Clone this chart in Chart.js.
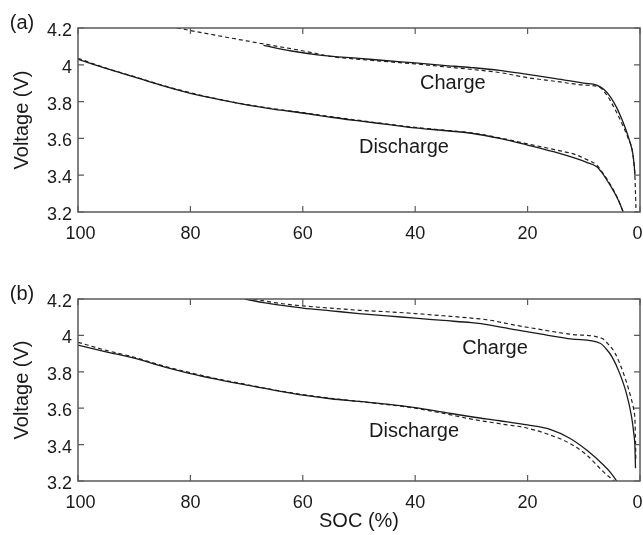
<!DOCTYPE html>
<html lang="en">

<head>
    <meta charset="UTF-8">
    <title>SOC vs Voltage</title>
    <script src="https://cdn.jsdelivr.net/npm/chart.js@4.4.0/dist/chart.umd.min.js"></script>
    <style>
        body { margin: 0; background: #fff; }
        .panel { position: absolute; left: 0; }
    </style>
</head>

<body>
    <canvas class="panel" id="chartA" width="643" height="270" style="top:0"></canvas>
    <canvas class="panel" id="chartB" width="643" height="265" style="top:270px"></canvas>

    <script>
        // x ticks / y ticks
        const socTicks = [100, 80, 60, 40, 20, 0];
        const voltTicks = [3.2, 3.4, 3.6, 3.8, 4.0, 4.2];

        // panel (a) - solid lines
        const aDisSoc = [100, 95, 90, 85, 80, 75, 70, 65, 60, 55, 50, 45, 40, 35, 30, 25, 20, 15.4, 11.3, 9.5, 7.7, 6.8, 5.9, 5, 4.15, 3.5, 3.0];
        const aDisV = [4.03, 3.98, 3.934, 3.887, 3.845, 3.812, 3.782, 3.758, 3.738, 3.715, 3.695, 3.676, 3.657, 3.643, 3.628, 3.6, 3.564, 3.528, 3.49, 3.47, 3.446, 3.415, 3.374, 3.33, 3.283, 3.24, 3.2];
        const aChgSoc = [67, 62, 57, 50, 45, 40, 35, 30, 25, 20, 15, 10, 7.7, 6.5, 5.3, 4.2, 3.3, 2.6, 2.1, 1.6, 1.3, 1.05, 0.9];
        const aChgV = [4.105, 4.075, 4.053, 4.035, 4.022, 4.01, 3.997, 3.985, 3.97, 3.948, 3.925, 3.9, 3.89, 3.868, 3.827, 3.77, 3.71, 3.655, 3.61, 3.56, 3.52, 3.46, 3.4];

        // panel (a) - dashed lines
        const aDisSocM = [100, 95, 90, 85, 80, 75, 70, 65, 60, 55, 50, 45, 40, 35, 30, 25, 20, 15.4, 11.3, 9.5, 7.7, 6.8, 5.9, 5, 4.15, 3.5, 3.0];
        const aDisVM = [4.035, 3.982, 3.936, 3.889, 3.848, 3.813, 3.784, 3.76, 3.74, 3.718, 3.698, 3.678, 3.66, 3.645, 3.63, 3.603, 3.57, 3.54, 3.51, 3.485, 3.455, 3.42, 3.38, 3.335, 3.285, 3.24, 3.2];
        const aChgSocM = [82.4, 78, 74, 70, 66, 62, 58, 55, 50, 45, 40, 35, 30, 25, 20, 15, 10, 7.3, 6, 5, 3.9, 2.9, 2.1, 1.4, 1.1, 0.9, 0.8, 0.7];
        const aChgVM = [4.2, 4.175, 4.152, 4.13, 4.108, 4.087, 4.064, 4.045, 4.03, 4.017, 4.005, 3.99, 3.975, 3.958, 3.93, 3.91, 3.89, 3.88, 3.84, 3.79, 3.725, 3.66, 3.6, 3.54, 3.47, 3.39, 3.3, 3.2];

        // panel (b) - solid lines
        const bDisSoc = [100, 95, 90, 85, 80, 75, 70, 65, 60, 55, 50, 45, 40, 35, 30, 25, 20, 16, 12.5, 9.5, 6.5, 5.2, 4.15];
        const bDisV = [3.947, 3.91, 3.875, 3.83, 3.79, 3.757, 3.727, 3.698, 3.672, 3.652, 3.637, 3.622, 3.603, 3.578, 3.553, 3.531, 3.508, 3.484, 3.435, 3.37, 3.288, 3.245, 3.2];
        const bChgSoc = [70.3, 67, 63, 60, 55, 50, 45, 40, 35, 30, 26.7, 22, 17.8, 12, 7.1, 6, 5, 3.6, 2.4, 1.5, 1.1, 0.9, 0.8];
        const bChgV = [4.2, 4.18, 4.162, 4.15, 4.135, 4.12, 4.107, 4.095, 4.082, 4.07, 4.057, 4.03, 4.008, 3.98, 3.957, 3.925, 3.883, 3.79, 3.68, 3.553, 3.46, 3.39, 3.27];

        // panel (b) - dashed lines
        const bDisSocM = [100, 95, 90, 85, 80, 75, 70, 65, 60, 55, 50, 45, 40, 35, 30, 25, 20, 16, 12.5, 9.5, 6.5, 4.6];
        const bDisVM = [3.962, 3.918, 3.88, 3.834, 3.795, 3.76, 3.73, 3.7, 3.675, 3.654, 3.637, 3.62, 3.6, 3.572, 3.54, 3.515, 3.49, 3.453, 3.407, 3.343, 3.25, 3.2];
        const bChgSocM = [68.8, 65, 60, 55, 50, 45, 40, 35, 30, 27, 22, 17.8, 12, 6.8, 5.6, 4.4, 2.7, 1.5, 1.1, 0.9, 0.8, 0.75];
        const bChgVM = [4.2, 4.18, 4.162, 4.15, 4.138, 4.13, 4.12, 4.108, 4.095, 4.085, 4.055, 4.033, 4.005, 3.984, 3.95, 3.9, 3.77, 3.645, 3.59, 3.535, 3.42, 3.315];

        const FONT = "'Liberation Sans', Arial, sans-serif";
        const INK = '#1a1a1a';

        function pts(xs, ys) {
            return xs.map((x, i) => ({ x: x, y: ys[i] }));
        }

        function line(data, dashed) {
            return {
                data: data,
                borderColor: dashed ? '#222' : INK,
                borderWidth: dashed ? 1.2 : 1.3,
                borderDash: dashed ? [4, 3] : [],
                pointRadius: 0,
                showLine: true,
                fill: false,
                cubicInterpolationMode: 'monotone'
            };
        }

        // box frame + inward ticks on all four sides, text notes
        const frame = {
            id: 'frame',
            afterDraw(chart, args, opts) {
                const { ctx, chartArea: a, scales } = chart;
                ctx.save();
                ctx.strokeStyle = '#5a5a5a';
                ctx.lineWidth = 1.5;
                ctx.strokeRect(a.left, a.top, a.right - a.left, a.bottom - a.top);
                ctx.lineWidth = 1.2;
                ctx.beginPath();
                socTicks.forEach(v => {
                    const px = scales.x.getPixelForValue(v);
                    ctx.moveTo(px, a.bottom); ctx.lineTo(px, a.bottom - 6);
                    ctx.moveTo(px, a.top); ctx.lineTo(px, a.top + 6);
                });
                voltTicks.forEach(v => {
                    const py = scales.y.getPixelForValue(v);
                    ctx.moveTo(a.left, py); ctx.lineTo(a.left + 6, py);
                    ctx.moveTo(a.right, py); ctx.lineTo(a.right - 6, py);
                });
                ctx.stroke();

                ctx.fillStyle = INK;
                ctx.font = '20px ' + FONT;
                ctx.textAlign = 'center';
                ctx.textBaseline = 'middle';
                opts.notes.forEach(n => {
                    ctx.fillText(n.text, scales.x.getPixelForValue(n.soc), scales.y.getPixelForValue(n.v));
                });
                ctx.fillText(opts.panel, a.left - 56, a.top - 5);
                ctx.restore();
            }
        };

        function makeChart(id, sets, notes, panel, top, xHeight, showTitle) {
            return new Chart(document.getElementById(id), {
                type: 'scatter',
                data: { datasets: sets },
                options: {
                    responsive: false,
                    animation: false,
                    layout: { padding: { top: top, right: 3, left: 0, bottom: 0 } },
                    plugins: {
                        legend: { display: false },
                        tooltip: { enabled: false },
                        frame: { notes: notes, panel: panel }
                    },
                    scales: {
                        x: {
                            type: 'linear',
                            reverse: true,
                            min: 0,
                            max: 100,
                            grid: { display: false, drawTicks: false },
                            border: { display: false },
                            ticks: {
                                stepSize: 20, padding: 11, color: INK, font: { family: FONT, size: 18 },
                                // edge labels nudged like the original
                                callback: v => v === 0 ? '0 ' : (v === 100 ? ' 100' : String(v))
                            },
                            title: { display: showTitle, text: 'SOC (%)', color: INK, font: { family: FONT, size: 20 }, padding: { top: 0, bottom: 2 } },
                            afterFit(s) { s.height = xHeight; s.paddingLeft = 0; s.paddingRight = 0; }
                        },
                        y: {
                            min: 3.2,
                            max: 4.2,
                            grid: { display: false, drawTicks: false },
                            border: { display: false },
                            ticks: {
                                stepSize: 0.2, padding: 6, labelOffset: 3, color: INK, font: { family: FONT, size: 18 },
                                callback: v => String(+v.toFixed(1))
                            },
                            title: { display: true, text: 'Voltage (V)', color: INK, font: { family: FONT, size: 20 }, padding: { top: 10, bottom: 0 } },
                            afterFit(s) { s.width = 78; s.paddingTop = 0; s.paddingBottom = 0; }
                        }
                    }
                },
                plugins: [frame]
            });
        }

        makeChart('chartA', [
            line(pts(aDisSoc, aDisV), false),
            line(pts(aDisSocM, aDisVM), true),
            line(pts(aChgSoc, aChgV), false),
            line(pts(aChgSocM, aChgVM), true)
        ], [
            { text: 'Charge', soc: 33.3, v: 3.9 },
            { text: 'Discharge', soc: 42, v: 3.553 }
        ], '(a)', 28, 58, false);

        makeChart('chartB', [
            line(pts(bDisSoc, bDisV), false),
            line(pts(bDisSocM, bDisVM), true),
            line(pts(bChgSoc, bChgV), false),
            line(pts(bChgSocM, bChgVM), true)
        ], [
            { text: 'Charge', soc: 25.8, v: 3.93 },
            { text: 'Discharge', soc: 40.2, v: 3.47 }
        ], '(b)', 29, 54, true);
    </script>

</body>

</html>
